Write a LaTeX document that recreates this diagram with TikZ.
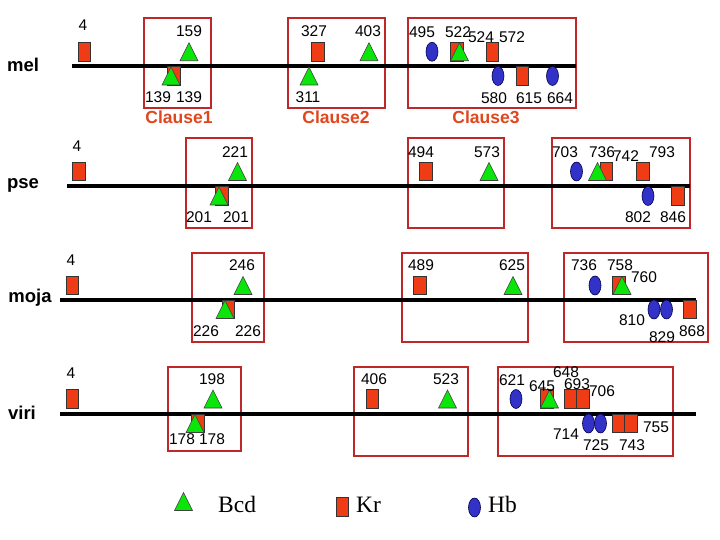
\documentclass[tikz,border=0pt]{standalone}
\usepackage{fontspec}
\setmainfont{Liberation Sans}
\newfontfamily\serifleg{Liberation Serif}
\usetikzlibrary{shapes.geometric}
\definecolor{bcdgreen}{RGB}{10,230,10}
\definecolor{krred}{RGB}{240,60,20}
\definecolor{hbblue}{RGB}{50,50,200}
\definecolor{boxred}{RGB}{190,40,40}
\definecolor{clausecol}{RGB}{225,70,30}
\newcommand\mkK[3]{\node[krst] (#1) at (#2,#3) {};}
\newcommand\mkH[3]{\node[hbst] (#1) at (#2,#3) {};}
\newcommand\mkT[3]{\coordinate (#1) at (#2,#3);\filldraw[bcdst] ([shift={(-9,9)}]#1) -- ([shift={(9,9)}]#1) -- ([shift={(0,-9)}]#1) -- cycle;}
\begin{document}
\begin{tikzpicture}[x=1pt,y=-1pt,
  num/.style={font=\fontsize{15.5}{16}\selectfont, inner sep=0pt},
  rowname/.style={font=\fontsize{18.5}{19}\selectfont\bfseries, inner sep=0pt},
  clause/.style={font=\fontsize{17.5}{18}\selectfont\bfseries, text=clausecol, inner sep=0pt},
  legtext/.style={font=\serifleg\fontsize{23.5}{24}\selectfont, anchor=base west, inner sep=0pt},
  axisline/.style={line width=4pt},
  clausebox/.style={draw=boxred, line width=1.1pt},
  krst/.style={rectangle, draw=black!80, fill=krred, minimum width=12.5pt, minimum height=18.5pt, inner sep=0pt, line width=0.6pt},
  hbst/.style={ellipse, draw=black!70!blue, fill=hbblue, minimum width=12pt, minimum height=19pt, inner sep=0pt, line width=0.6pt},
  bcdst/.style={fill=bcdgreen, draw=black!75, line width=0.6pt, line join=miter}]
\useasboundingbox (0,0) rectangle (720,540);
\fill[white] (0,0) rectangle (720,540);

% ---------- clause boxes ----------
\draw[clausebox] (144,18) rectangle (211,108);
\draw[clausebox] (288,18) rectangle (385,108);
\draw[clausebox] (408,18) rectangle (576,108);
\draw[clausebox] (186,138) rectangle (252,228);
\draw[clausebox] (408,138) rectangle (504,228);
\draw[clausebox] (552,138) rectangle (690,228);
\draw[clausebox] (192,253) rectangle (264,342);
\draw[clausebox] (402,253) rectangle (528,342);
\draw[clausebox] (564,253) rectangle (708,342);
\draw[clausebox] (168,367) rectangle (241,451);
\draw[clausebox] (354,367) rectangle (468,456);
\draw[clausebox] (498,367) rectangle (673,456);

% ---------- axes ----------
\coordinate (melL) at (72,66);   \coordinate (melR) at (576,66);
\coordinate (pseL) at (67,186);  \coordinate (pseR) at (690,186);
\coordinate (mojaL) at (60,300); \coordinate (mojaR) at (696,300);
\coordinate (viriL) at (60,414); \coordinate (viriR) at (696,414);
\draw[axisline] (melL) -- (melR);
\draw[axisline] (pseL) -- (pseR);
\draw[axisline] (mojaL) -- (mojaR);
\draw[axisline] (viriL) -- (viriR);

% ---------- row names ----------
\node[rowname] (nmel) at (23,65) {mel};
\node[rowname] (npse) at (23,185) {pse};
\node[rowname] (nmoja) at (30,298) {moja};
\node[rowname] (nviri) at (22,413) {viri};

% ---------- clause labels ----------
\node[clause] (cl1) at (179,117) {Clause1};
\node[clause] (cl2) at (336,117) {Clause2};
\node[clause] (cl3) at (486,117) {Clause3};

% ---------- mel markers ----------
\mkK{m-k4}{84.5}{51.75}
\mkT{m-t159}{189}{51.75}
\mkK{m-k139}{174}{76}
\mkT{m-t139}{171}{76}
\mkK{m-k327}{318}{51.75}
\mkT{m-t403}{369}{51.75}
\mkT{m-t311}{309}{76}
\mkH{m-h495}{432}{51.75}
\mkK{m-k522}{457}{51.75}
\mkT{m-t522}{459.5}{51.75}
\mkK{m-k524}{492.5}{51.75}
\mkH{m-h580}{498}{76}
\mkK{m-k615}{522.5}{76}
\mkH{m-h664}{552.5}{76}

% ---------- pse markers ----------
\mkK{p-k4}{79}{171.5}
\mkT{p-t221}{237.5}{171.5}
\mkK{p-k201}{222}{196}
\mkT{p-t201}{219}{196}
\mkK{p-k494}{426}{171.5}
\mkT{p-t573}{489}{171.5}
\mkH{p-h703}{576.5}{171.5}
\mkK{p-k742}{606.5}{171.5}
\mkT{p-t736}{597.5}{171.5}
\mkK{p-k793}{643}{171.5}
\mkH{p-h802}{648}{196}
\mkK{p-k846}{678}{196}

% ---------- moja markers ----------
\mkK{j-k4}{72.5}{285.5}
\mkT{j-t246}{243}{285.5}
\mkK{j-k226}{228.5}{309.5}
\mkT{j-t226}{225}{309.5}
\mkK{j-k489}{420}{285.5}
\mkT{j-t625}{513}{285.5}
\mkH{j-h736}{595}{285.5}
\mkK{j-k758}{619}{285.5}
\mkT{j-t760}{622}{285.5}
\mkH{j-h810}{654}{309.5}
\mkH{j-h829}{666.5}{309.5}
\mkK{j-k868}{690}{309.5}

% ---------- viri markers ----------
\mkK{v-k4}{72.5}{399}
\mkT{v-t198}{213}{399}
\mkK{v-k178}{198}{423.5}
\mkT{v-t178}{195}{423.5}
\mkK{v-k406}{372.5}{399}
\mkT{v-t523}{447.5}{399}
\mkH{v-h621}{516}{399}
\mkK{v-k648}{547}{399}
\mkT{v-t645}{549.5}{399}
\mkK{v-k693}{570.5}{399}
\mkK{v-k706}{583}{399}
\mkH{v-h714}{588.5}{423.5}
\mkH{v-h725}{600.5}{423.5}
\mkK{v-k743}{619}{423.5}
\mkK{v-k755}{631}{423.5}

% ---------- mel labels ----------
\node[num] (lm4) at (83,25.5) {4};
\node[num] (lm159) at (189,31) {159};
\node[num] (lm139a) at (158,97) {139};
\node[num] (lm139b) at (189,97) {139};
\node[num] (lm327) at (314,31) {327};
\node[num] (lm403) at (368,31) {403};
\node[num] (lm311) at (308,97) {311};
\node[num] (lm495) at (422,32) {495};
\node[num] (lm522) at (458,32) {522};
\node[num] (lm524) at (481,37) {524};
\node[num] (lm572) at (512,37) {572};
\node[num] (lm580) at (494,98) {580};
\node[num] (lm615) at (529,98) {615};
\node[num] (lm664) at (560,98) {664};

% ---------- pse labels ----------
\node[num] (lp4) at (77,146) {4};
\node[num] (lp221) at (235,152) {221};
\node[num] (lp201a) at (199,217) {201};
\node[num] (lp201b) at (236,217) {201};
\node[num] (lp494) at (421,152) {494};
\node[num] (lp573) at (487,152) {573};
\node[num] (lp703) at (565,152) {703};
\node[num] (lp736) at (602,152) {736};
\node[num] (lp742) at (626,156) {742};
\node[num] (lp793) at (662,152) {793};
\node[num] (lp802) at (638,217) {802};
\node[num] (lp846) at (673,217) {846};

% ---------- moja labels ----------
\node[num] (lj4) at (71,260) {4};
\node[num] (lj246) at (242,265) {246};
\node[num] (lj226a) at (206,331) {226};
\node[num] (lj226b) at (248,331) {226};
\node[num] (lj489) at (421,265) {489};
\node[num] (lj625) at (512,265) {625};
\node[num] (lj736) at (584,265) {736};
\node[num] (lj758) at (620,265) {758};
\node[num] (lj760) at (644,277) {760};
\node[num] (lj810) at (632,320) {810};
\node[num] (lj829) at (662,337) {829};
\node[num] (lj868) at (692,331) {868};

% ---------- viri labels ----------
\node[num] (lv4) at (71,373) {4};
\node[num] (lv198) at (212,379) {198};
\node[num] (lv178a) at (182,439) {178};
\node[num] (lv178b) at (212,439) {178};
\node[num] (lv406) at (374,379) {406};
\node[num] (lv523) at (446,379) {523};
\node[num] (lv621) at (512,380) {621};
\node[num] (lv645) at (542,386) {645};
\node[num] (lv648) at (566,372) {648};
\node[num] (lv693) at (577,384) {693};
\node[num] (lv706) at (602,391) {706};
\node[num] (lv714) at (566,434) {714};
\node[num] (lv725) at (596,445) {725};
\node[num] (lv743) at (632,445) {743};
\node[num] (lv755) at (656,427) {755};

% ---------- legend ----------
\mkT{g-t}{183.5}{501.5}
\node[legtext] (gBcd) at (218,512.5) {Bcd};
\mkK{g-k}{342.5}{507}
\node[legtext] (gKr) at (356,512.5) {Kr};
\mkH{g-h}{474.5}{507.5}
\node[legtext] (gHb) at (488,512.5) {Hb};
\end{tikzpicture}
\end{document}
